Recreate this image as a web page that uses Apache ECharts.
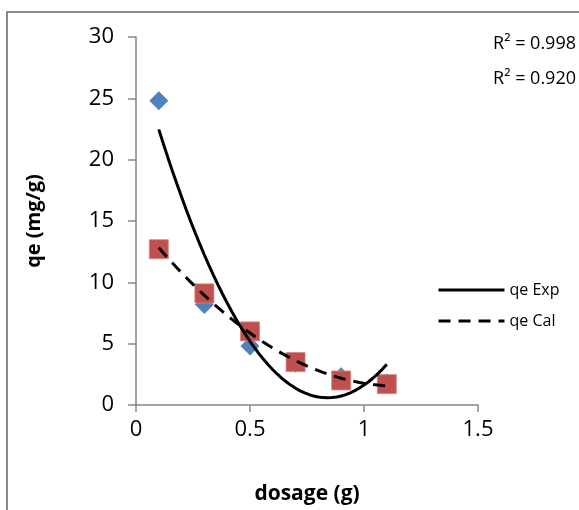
<!DOCTYPE html>
<html>
<head>
<meta charset="utf-8">
<script src="https://cdn.jsdelivr.net/npm/echarts@6/dist/echarts.min.js"></script>
<style>
  html, body { margin: 0; padding: 0; background: #fff; }
  #chart { width: 579px; height: 510px; }
</style>
</head>
<body>
<div id="chart"></div>
<script>
// dosage (g)
const dosage = [0.1, 0.3, 0.5, 0.7, 0.9, 1.1]
// measured / calculated adsorption capacity
const qeExp = [24.8, 8.2, 4.8, 3.4, 2.3, 1.8]
const qeCal = [12.7, 9.1, 6.0, 3.5, 2.0, 1.7]
const r2Labels = ['R² = 0.998', 'R² = 0.920']
const legendNames = ['qe Exp', 'qe Cal']

const AXIS_COLOR = '#868686'
const BLUE = '#4F81BD'
const RED = '#C0504D'
const FONT = '"Open Sans", "Noto Sans", sans-serif'

// 2nd order polynomial trendline (least squares), like the spreadsheet does
function polyFit2 (xs, ys) {
  let s = [0, 0, 0, 0, 0]
  let t = [0, 0, 0]
  xs.forEach((x, i) => {
    for (let k = 0; k < 5; k++) s[k] += Math.pow(x, k)
    for (let k = 0; k < 3; k++) t[k] += ys[i] * Math.pow(x, k)
  })
  const m = [
    [s[0], s[1], s[2], t[0]],
    [s[1], s[2], s[3], t[1]],
    [s[2], s[3], s[4], t[2]]
  ]
  for (let i = 0; i < 3; i++) {
    for (let j = i + 1; j < 3; j++) {
      const f = m[j][i] / m[i][i]
      for (let k = i; k < 4; k++) m[j][k] -= f * m[i][k]
    }
  }
  const c = [0, 0, 0]
  for (let i = 2; i >= 0; i--) {
    let v = m[i][3]
    for (let k = i + 1; k < 3; k++) v -= m[i][k] * c[k]
    c[i] = v / m[i][i]
  }
  return c
}

function trend (xs, ys) {
  const c = polyFit2(xs, ys)
  const x0 = xs[0]
  const x1 = xs[xs.length - 1]
  const pts = []
  for (let i = 0; i <= 50; i++) {
    const x = x0 + (x1 - x0) * i / 50
    pts.push([x, c[0] + c[1] * x + c[2] * x * x])
  }
  return pts
}

const chart = echarts.init(document.getElementById('chart'))

const option = {
  backgroundColor: '#fff',
  animation: false,
  textStyle: { fontFamily: FONT },
  grid: { left: 136, top: 37, right: 101, bottom: 101 },
  xAxis: {
    type: 'value',
    min: 0,
    max: 1.5,
    interval: 0.5,
    name: 'dosage (g)',
    nameLocation: 'middle',
    nameGap: 79,
    nameTextStyle: { fontSize: 21, fontWeight: 'bold', color: '#000', fontFamily: FONT },
    axisLine: { show: true, lineStyle: { color: AXIS_COLOR, width: 1.5 } },
    axisTick: { show: true, length: 7, lineStyle: { color: AXIS_COLOR, width: 1.5 } },
    axisLabel: { fontSize: 22, color: '#000', margin: 14, fontFamily: FONT },
    splitLine: { show: false }
  },
  yAxis: {
    type: 'value',
    min: 0,
    max: 30,
    interval: 5,
    name: 'qe (mg/g)',
    nameLocation: 'middle',
    nameGap: 92,
    nameTextStyle: { fontSize: 20, fontWeight: 'bold', color: '#000', fontFamily: FONT },
    axisLine: { show: true, lineStyle: { color: AXIS_COLOR, width: 1.5 } },
    axisTick: { show: true, length: 8, lineStyle: { color: AXIS_COLOR, width: 1.5 } },
    axisLabel: { fontSize: 22, color: '#000', margin: 22, fontFamily: FONT },
    splitLine: { show: false }
  },
  legend: {
    data: legendNames,
    orient: 'vertical',
    left: 437,
    top: 282,
    padding: 0,
    itemWidth: 66,
    itemHeight: 10,
    itemGap: 15,
    itemStyle: { color: 'transparent', borderColor: 'transparent', borderWidth: 0 },
    lineStyle: { width: 3 },
    textStyle: { fontSize: 16, color: '#000', fontFamily: FONT }
  },
  graphic: [
    {
      type: 'rect',
      shape: { x: 7, y: 12, width: 700, height: 700 },
      style: { fill: 'none', stroke: '#8a8a8a', lineWidth: 2 },
      silent: true
    },
    {
      type: 'text',
      right: 3,
      top: 35,
      style: { text: r2Labels[0], fill: '#000', font: '18px ' + FONT }
    },
    {
      type: 'text',
      right: 3,
      top: 70,
      style: { text: r2Labels[1], fill: '#000', font: '18px ' + FONT }
    }
  ],
  series: [
    {
      name: 'qe Exp points',
      type: 'scatter',
      symbol: 'diamond',
      symbolSize: [19, 19],
      itemStyle: { color: BLUE, opacity: 1 },
      data: dosage.map((x, i) => [x, qeExp[i]]),
      z: 2
    },
    {
      name: 'qe Cal points',
      type: 'scatter',
      symbol: 'rect',
      symbolSize: 19,
      itemStyle: { color: RED, opacity: 1, borderColor: 'rgba(214,130,128,0.8)', borderWidth: 1 },
      data: dosage.map((x, i) => [x, qeCal[i]]),
      z: 3
    },
    {
      name: legendNames[0],
      type: 'line',
      data: trend(dosage, qeExp),
      showSymbol: false,
      symbol: 'none',
      lineStyle: { color: '#000', width: 3, type: 'solid' },
      itemStyle: { color: '#000' },
      z: 4
    },
    {
      name: legendNames[1],
      type: 'line',
      data: trend(dosage, qeCal),
      showSymbol: false,
      symbol: 'none',
      lineStyle: { color: '#000', width: 3, type: [12, 8] },
      itemStyle: { color: '#000' },
      z: 4
    }
  ]
}

chart.setOption(option)
</script>
</body>
</html>
